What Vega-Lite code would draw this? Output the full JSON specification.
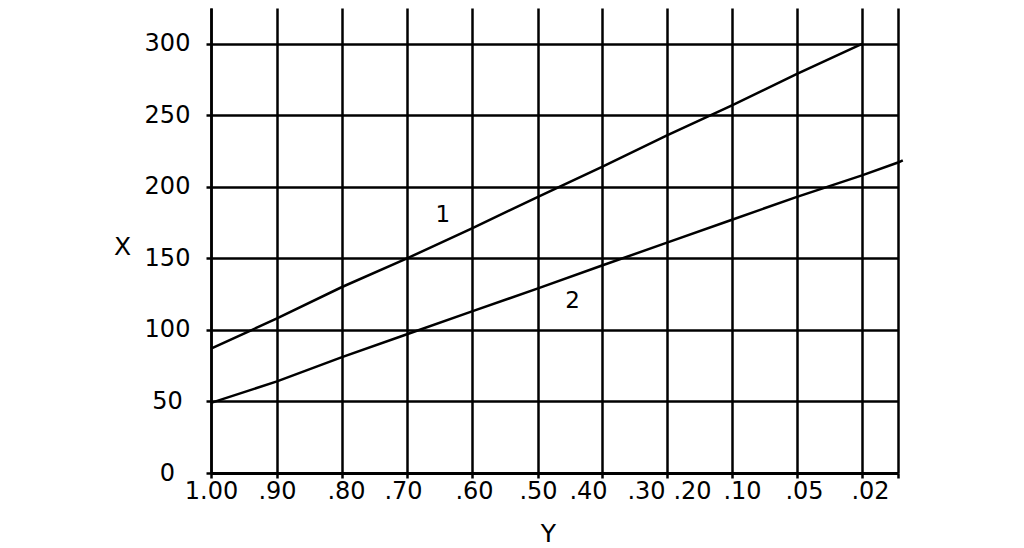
{
  "$schema": "https://vega.github.io/schema/vega-lite/v6.json",
  "autosize": {"type": "none"},
  "padding": {"left": 211, "top": 8, "right": 103, "bottom": 75},
  "width": 710,
  "height": 465,
  "background": "white",
  "config": {"view": {"stroke": null}, "font": "DejaVu Sans"},
  "datasets": {
    "lines": [
      {"series": "1", "Y": 1.0, "X": 87},
      {"series": "1", "Y": 0.9, "X": 108},
      {"series": "1", "Y": 0.8, "X": 130},
      {"series": "1", "Y": 0.7, "X": 150},
      {"series": "1", "Y": 0.6, "X": 171},
      {"series": "1", "Y": 0.5, "X": 193},
      {"series": "1", "Y": 0.4, "X": 214},
      {"series": "1", "Y": 0.3, "X": 236},
      {"series": "1", "Y": 0.2, "X": 257},
      {"series": "1", "Y": 0.1, "X": 279},
      {"series": "1", "Y": 0.05, "X": 300},
      {"series": "2", "Y": 1.0, "X": 49},
      {"series": "2", "Y": 0.9, "X": 64},
      {"series": "2", "Y": 0.8, "X": 81},
      {"series": "2", "Y": 0.7, "X": 97},
      {"series": "2", "Y": 0.6, "X": 113},
      {"series": "2", "Y": 0.5, "X": 129},
      {"series": "2", "Y": 0.4, "X": 145},
      {"series": "2", "Y": 0.3, "X": 161},
      {"series": "2", "Y": 0.2, "X": 177},
      {"series": "2", "Y": 0.1, "X": 193},
      {"series": "2", "Y": 0.05, "X": 208},
      {"series": "2", "Y": 0.02, "X": 217},
      {"series": "2", "Y": 0.016, "X": 218.5}
    ],
    "labels": [
      {"Y": 0.645, "X": 180, "label": "1"},
      {"Y": 0.446, "X": 120, "label": "2"}
    ]
  },
  "layer": [
    {
      "data": {"name": "lines"},
      "mark": {"type": "line", "color": "black", "strokeWidth": 2.5},
      "encoding": {
        "x": {
          "field": "Y",
          "type": "quantitative",
          "scale": {
            "domain": [1, 0.9, 0.8, 0.7, 0.6, 0.5, 0.4, 0.3, 0.2, 0.1, 0.05, 0.02],
            "range": [0, 66, 131, 196, 261, 327, 391, 456, 521, 586, 651, 687],
            "nice": false,
            "zero": false
          },
          "axis": {
            "title": "Y",
            "values": [1, 0.9, 0.8, 0.7, 0.6, 0.5, 0.4, 0.3, 0.2, 0.1, 0.05, 0.02],
            "labelExpr": "datum.value == 1 ? '1.00' : substring(format(datum.value, '.2f'), 1)",
            "grid": true,
            "gridColor": "black",
            "gridWidth": 2.5,
            "gridOpacity": 1,
            "domainColor": "black",
            "domainWidth": 3,
            "tickColor": "black",
            "tickWidth": 2.5,
            "tickSize": 5,
            "labelFont": "DejaVu Sans",
            "labelFontSize": 24,
            "labelColor": "black",
            "labelPadding": 1,
            "labelFlush": false,
            "labelOverlap": false,
            "labelBound": false,
            "labelOffset": {
              "condition": [
                {"test": "datum.value == 0.8", "value": 4},
                {"test": "datum.value == 0.7", "value": -4},
                {"test": "datum.value == 0.6", "value": 2},
                {"test": "datum.value == 0.4", "value": -14},
                {"test": "datum.value == 0.3", "value": -21},
                {"test": "datum.value == 0.2", "value": -40},
                {"test": "datum.value == 0.1", "value": -55},
                {"test": "datum.value == 0.05", "value": -58},
                {"test": "datum.value == 0.02", "value": -28}
              ],
              "value": 0
            },
            "titleFont": "DejaVu Sans",
            "titleFontSize": 25,
            "titleFontWeight": "normal",
            "titleColor": "black",
            "titleX": 337,
            "titleY": 68,
            "titleAlign": "center",
            "titleBaseline": "alphabetic"
          }
        },
        "y": {
          "field": "X",
          "type": "quantitative",
          "scale": {"domain": [0, 325], "nice": false, "zero": true},
          "axis": {
            "title": "X",
            "values": [0, 50, 100, 150, 200, 250, 300],
            "grid": true,
            "gridColor": "black",
            "gridWidth": 2.5,
            "gridOpacity": 1,
            "domainColor": "black",
            "domainWidth": 2.5,
            "tickColor": "black",
            "tickWidth": 2.5,
            "tickSize": 5,
            "labelFont": "DejaVu Sans",
            "labelFontSize": 24,
            "labelColor": "black",
            "labelAlign": "center",
            "labelBaseline": "middle",
            "labelPadding": 39,
            "labelFlush": false,
            "labelOverlap": false,
            "labelBound": false,
            "titleFont": "DejaVu Sans",
            "titleFontSize": 25,
            "titleFontWeight": "normal",
            "titleColor": "black",
            "titleAngle": 0,
            "titleX": -89,
            "titleY": 238,
            "titleAlign": "center",
            "titleBaseline": "middle"
          }
        },
        "detail": {"field": "series", "type": "nominal"}
      }
    },
    {
      "data": {"name": "labels"},
      "mark": {"type": "text", "fontSize": 23, "font": "DejaVu Sans", "color": "black", "align": "center", "baseline": "middle"},
      "encoding": {
        "x": {"field": "Y", "type": "quantitative"},
        "y": {"field": "X", "type": "quantitative"},
        "text": {"field": "label", "type": "nominal"}
      }
    }
  ]
}
